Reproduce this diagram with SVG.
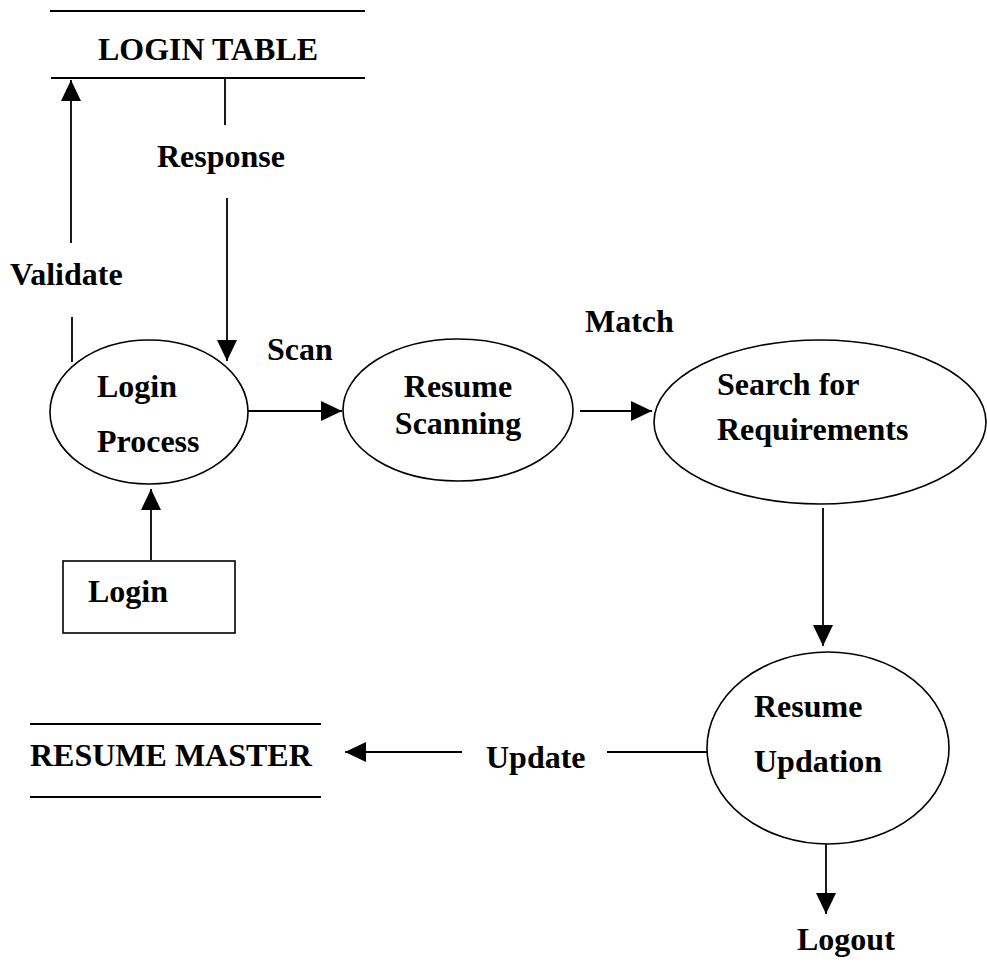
<svg xmlns="http://www.w3.org/2000/svg" width="987" height="965" viewBox="0 0 987 965">
<style>
text{font-family:"Liberation Serif","Times New Roman",serif;font-weight:bold;font-size:32px;fill:#000}
.ln{stroke:#000;stroke-width:1.8;fill:none}
.nd{stroke:#000;stroke-width:1.6;fill:#fff}
</style>
<defs>
<marker id="ah" markerUnits="userSpaceOnUse" markerWidth="24" markerHeight="22" refX="21" refY="10" orient="auto">
<path d="M0,0 L21,10 L0,20 Z" fill="#000"/>
</marker>
</defs>
<rect width="987" height="965" fill="#fff"/>
<g id="connectors">
<line class="ln" x1="71" y1="243" x2="71" y2="80" marker-end="url(#ah)"/>
<line class="ln" x1="72" y1="317" x2="72" y2="362"/>
<line class="ln" x1="225" y1="79" x2="225" y2="125"/>
<line class="ln" x1="227" y1="198" x2="227" y2="361" marker-end="url(#ah)"/>
<line class="ln" x1="248" y1="411" x2="342" y2="411" marker-end="url(#ah)"/>
<line class="ln" x1="580" y1="411" x2="652" y2="411" marker-end="url(#ah)"/>
<line class="ln" x1="823" y1="508" x2="823" y2="646" marker-end="url(#ah)"/>
<line class="ln" x1="707" y1="752" x2="607" y2="752"/>
<line class="ln" x1="462" y1="752" x2="345" y2="752" marker-end="url(#ah)"/>
<line class="ln" x1="826" y1="843" x2="826" y2="914" marker-end="url(#ah)"/>
<line class="ln" x1="151" y1="560" x2="151" y2="489" marker-end="url(#ah)"/>
<text x="10" y="285">Validate</text>
<text x="157" y="167">Response</text>
<text x="267" y="360">Scan</text>
<text x="585" y="332">Match</text>
<text x="486" y="768">Update</text>
<text x="797" y="950">Logout</text>
</g>
<g id="login-table">
<line class="ln" x1="50" y1="11" x2="365" y2="11"/>
<line class="ln" x1="51" y1="78" x2="365" y2="78"/>
<text x="208" y="60" text-anchor="middle">LOGIN TABLE</text>
</g>
<g id="login-process">
<ellipse class="nd" cx="149" cy="412" rx="99" ry="72"/>
<text x="97" y="397">Login</text>
<text x="97" y="452">Process</text>
</g>
<g id="resume-scanning">
<ellipse class="nd" cx="458" cy="410" rx="115" ry="71"/>
<text x="458" y="397" text-anchor="middle">Resume</text>
<text x="458" y="434" text-anchor="middle">Scanning</text>
</g>
<g id="search-requirements">
<ellipse class="nd" cx="820" cy="422" rx="166" ry="82"/>
<text x="717" y="395">Search for</text>
<text x="717" y="440">Requirements</text>
</g>
<g id="login">
<rect class="nd" x="63" y="561" width="172" height="72"/>
<text x="88" y="602">Login</text>
</g>
<g id="resume-updation">
<ellipse class="nd" cx="828" cy="748" rx="121" ry="96"/>
<text x="754" y="717">Resume</text>
<text x="754" y="772">Updation</text>
</g>
<g id="resume-master">
<line class="ln" x1="30" y1="724" x2="321" y2="724"/>
<line class="ln" x1="30" y1="797" x2="321" y2="797"/>
<text x="30" y="766">RESUME MASTER</text>
</g>
</svg>
